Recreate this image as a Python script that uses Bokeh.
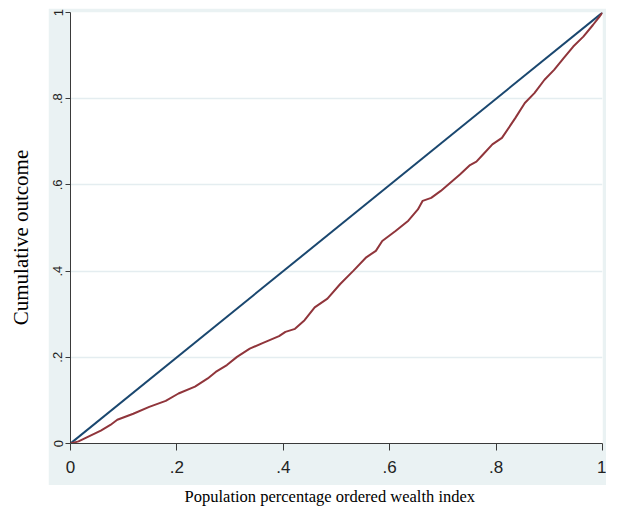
import math
from bokeh.plotting import figure
from bokeh.models import Range1d, FixedTicker, Spacer
from bokeh.layouts import row, column
from bokeh.core.properties import value
from bokeh.embed import file_html
from bokeh.resources import INLINE

# ---- data ----
pop_share = [0, 0.015, 0.057, 0.075, 0.088, 0.118, 0.148, 0.179, 0.203, 0.234,
             0.258, 0.273, 0.294, 0.313, 0.337, 0.361, 0.392, 0.404, 0.422, 0.440,
             0.459, 0.483, 0.507, 0.532, 0.556, 0.574, 0.586, 0.611, 0.635, 0.653,
             0.662, 0.678, 0.696, 0.714, 0.732, 0.751, 0.763, 0.775, 0.793, 0.811,
             0.836, 0.854, 0.872, 0.891, 0.909, 0.927, 0.945, 0.964, 0.982, 0.994, 1.0]
cum_outcome = [0, 0.005, 0.030, 0.043, 0.055, 0.069, 0.085, 0.099, 0.116, 0.132,
               0.151, 0.166, 0.182, 0.201, 0.220, 0.233, 0.249, 0.259, 0.266, 0.286,
               0.316, 0.336, 0.370, 0.401, 0.432, 0.447, 0.470, 0.493, 0.517, 0.543,
               0.563, 0.570, 0.586, 0.605, 0.624, 0.646, 0.654, 0.670, 0.694, 0.709,
               0.755, 0.790, 0.813, 0.844, 0.867, 0.894, 0.921, 0.944, 0.971, 0.990, 1.0]
equality_x = [0, 1]
equality_y = [0, 1]

x_ticks = [0, 0.2, 0.4, 0.6, 0.8, 1]
x_tick_labels = ["0", ".2", ".4", ".6", ".8", "1"]
y_ticks = [0, 0.2, 0.4, 0.6, 0.8, 1]
y_tick_labels = ["0", ".2", ".4", ".6", ".8", "1"]

x_title = "Population percentage ordered wealth index"
y_title = "Cumulative outcome"

# ---- styles ----
BAND = "#eaf2f3"
GRID = "#e4edf0"
AXIS = "#3a3a3a"
NAVY = "#1a476f"
MAROON = "#90353b"
SANS = "'Liberation Sans Narrow', 'Liberation Sans', Arial, sans-serif"
SERIF = "'Liberation Serif', 'Times New Roman', serif"

LEFT_W = 48
MAIN_W = 606 - LEFT_W
TOP_GAP = 8
MAIN_H = 477
XT_H = 506 - TOP_GAP - MAIN_H


def blank(width, height, fill="white"):
    f = figure(width=width, height=height, output_backend="svg", toolbar_location=None,
               x_range=Range1d(0, 1), y_range=Range1d(0, 1),
               x_axis_type=None, y_axis_type=None, min_border=0)
    f.min_border_left = f.min_border_right = f.min_border_top = f.min_border_bottom = 0
    f.outline_line_color = None
    f.background_fill_color = fill
    f.border_fill_color = fill
    f.xgrid.visible = False
    f.ygrid.visible = False
    return f


# ---- main plot (graph region tinted, plot region white) ----
p = figure(width=MAIN_W, height=MAIN_H, output_backend="svg", toolbar_location=None,
           x_range=Range1d(0, 1), y_range=Range1d(0, 1),
           min_border_left=22, min_border_right=4, min_border_top=4, min_border_bottom=42)
p.background_fill_color = "white"
p.border_fill_color = BAND
p.outline_line_color = None

p.line(equality_x, equality_y, line_color=NAVY, line_width=2)
p.line(pop_share, cum_outcome, line_color=MAROON, line_width=2)

p.xgrid.grid_line_color = None
p.ygrid.ticker = FixedTicker(ticks=y_ticks)
p.ygrid.grid_line_color = GRID
p.ygrid.grid_line_width = 1.5

p.xaxis.ticker = FixedTicker(ticks=x_ticks)
p.xaxis.major_label_overrides = dict(zip(x_ticks, x_tick_labels))
p.yaxis.ticker = FixedTicker(ticks=y_ticks)
p.yaxis.major_label_overrides = dict(zip(y_ticks, y_tick_labels))

for ax in (p.xaxis, p.yaxis):
    ax.axis_line_color = AXIS
    ax.major_tick_line_color = AXIS
    ax.minor_tick_line_color = None
    ax.major_tick_in = 0
    ax.major_label_text_color = "#222222"
    ax.major_label_text_font = SANS

p.xaxis.major_tick_out = 7
p.xaxis.major_label_standoff = 10
p.xaxis.major_label_text_font_size = "17px"

p.yaxis.major_tick_out = 5
p.yaxis.major_label_standoff = 3
p.yaxis.major_label_orientation = "vertical"
p.yaxis.major_label_text_font_size = "13px"

# ---- x title ----
xt = blank(MAIN_W, XT_H)
xt.text(x=[(320 - LEFT_W) / MAIN_W], y=[0.5], text=[x_title],
        text_align="center", text_baseline="middle", text_font=value(SERIF),
        text_font_size=value("16.5px"), text_color="black")

# ---- y title ----
yt = blank(LEFT_W, 506)
yt.text(x=[20 / LEFT_W], y=[1 - 237 / 506], text=[y_title], angle=math.pi / 2,
        text_align="center", text_baseline="middle", text_font=value(SERIF),
        text_font_size=value("21px"), text_color="black")

layout = row(yt, column(Spacer(width=MAIN_W, height=TOP_GAP), p, xt))

open("out.html", "w").write(file_html(layout, INLINE))
